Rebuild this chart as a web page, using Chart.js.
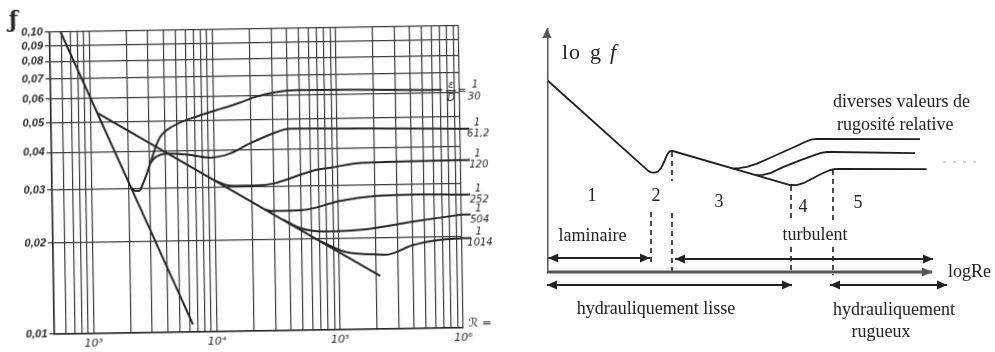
<!DOCTYPE html>
<html lang="fr">
<head>
<meta charset="UTF-8">
<meta name="viewport" content="width=device-width, initial-scale=1.0">
<title>Diagramme de Nikuradse et régimes d'écoulement</title>
<script src="https://cdn.jsdelivr.net/npm/chart.js"></script>
<style>
    html, body { margin: 0; padding: 0; background: #fff; }
    body { position: relative; width: 995px; height: 352px; overflow: hidden; }
    /* le diagramme scanné est légèrement de travers */
    #cadreNiku {
        position: absolute; left: 0; top: 0; width: 500px; height: 352px;
        transform: rotate(-0.9deg); transform-origin: 256.5px 180px;
    }
    #cadreSchema { position: absolute; left: 530px; top: 0; width: 465px; height: 352px; }
</style>
</head>
<body>
<div id="cadreNiku"><canvas id="niku" width="500" height="352"></canvas></div>
<div id="cadreSchema"><canvas id="schema" width="465" height="352"></canvas></div>

<script>
// ---------- Diagramme de Nikuradse : f en fonction de Re ----------
const reLaminaire = [589, 6410];
const fLaminaire  = [0.100, 0.0106];
const reLisse = [1156, 215000];
const fLisse  = [0.0536, 0.0150];

// courbes de rugosité relative ε/D
const re30 = [2100, 2272, 2447, 2591, 2796, 3020, 3261, 3656, 4668, 7737, 12000, 16340, 22000, 30290, 47410, 720000];
const f30  = [0.0303, 0.0295, 0.0295, 0.0308, 0.0332, 0.0363, 0.0398, 0.0443, 0.0481, 0.0521, 0.0549, 0.0571, 0.0596, 0.0614, 0.0625, 0.0615];
const re61 = [3020, 3318, 4153, 6029, 9252, 13440, 19550, 30060, 41320, 1000000];
const f61  = [0.0363, 0.0380, 0.0391, 0.0387, 0.0377, 0.0388, 0.0418, 0.0450, 0.0466, 0.0456];
const re120 = [10110, 13360, 20510, 29790, 62910, 86450, 160100, 1000000];
const f120  = [0.0316, 0.0304, 0.0303, 0.0307, 0.0337, 0.0344, 0.0356, 0.0359];
const re252 = [25550, 29640, 51850, 103500, 206500, 460500, 1000000];
const f252  = [0.0252, 0.0249, 0.0250, 0.0267, 0.0276, 0.0278, 0.0276];
const re504 = [35660, 48870, 74990, 158100, 402200, 1000000];
const f504  = [0.0233, 0.0218, 0.0212, 0.0214, 0.0226, 0.0237];
const re1014 = [70770, 112600, 179300, 237200, 400500, 663000, 1000000];
const f1014  = [0.0197, 0.0181, 0.0177, 0.0176, 0.0189, 0.0196, 0.0198];

const rugosites = ['30', '61,2', '120', '252', '504', '1014'];
const fTicks = [0.01, 0.02, 0.03, 0.04, 0.05, 0.06, 0.07, 0.08, 0.09, 0.10];
const reDecades = [1e3, 1e4, 1e5, 1e6];
const reDecadeLabels = ['10³', '10⁴', '10⁵', '10⁶'];

// ---------- Schéma log f = F(log Re), unités arbitraires ----------
const logReCourbe = [0, 25.3, 26, 27, 27.75, 28.5, 29.25, 30, 30.6, 31.25, 60.75, 62.4, 64.1, 66, 68.5, 70.75, 71.8, 72.8, 94.9];
const logfCourbe  = [48, 25.3, 24.93, 24.85, 25.13, 26, 27.5, 29.25, 30.1, 30.3, 21.75, 21.7, 22.2, 23.2, 24.5, 25.5, 25.7, 25.75, 25.7];
const logReRugueux1 = [46.5, 48, 50, 52.5, 55, 59, 62, 64.5, 66, 67.5, 93.25];
const logfRugueux1  = [25.88, 25.95, 26.3, 27.1, 28.2, 30, 31.3, 32.5, 33.1, 33.3, 33.2];
const logReRugueux2 = [52.25, 54, 56, 59, 63.25, 66.5, 68.5, 70, 71.5, 92];
const logfRugueux2  = [24.2, 24.3, 24.8, 26.2, 27.9, 29.1, 29.8, 30.0, 30.0, 29.7];
const logReTraits = [99, 109];
const logfTraits  = [27.5, 27.5];

// limites des zones 1 à 5 (traits interrompus)
const tiretsRe   = [26, 31.25, 31.25, 61, 61, 71.5, 71.5];
const tiretsHaut = [15, 30, 14.75, 21.5, 6.25, 25.5, 6.25];
const tiretsBas  = [1.5, 22.75, 0.25, 12.75, 0, 12.75, -0.75];

// flèches des régimes : laminaire, turbulent, lisse, rugueux
const flecheDe     = [0.3, 32, 0, 70.75];
const flecheA      = [25.75, 96.5, 61.25, 100];
const flecheNiveau = [3.5, 3.25, -3.25, -3.25];

function serie(xs, ys) {
    return xs.map((x, i) => ({ x: x, y: ys[i] }));
}

Chart.defaults.font.family = 'Liberation Sans';

// grille verticale : 600 ... 900, 1000 ... 9000, ... , 10^6
const reGrille = [];
[100, 1000, 10000, 100000].forEach(d => {
    for (let k = 1; k <= 9; k++) {
        const v = k * d;
        if (v >= 600) reGrille.push(v);
    }
});
reGrille.push(1e6);

const encre = '#262626';

function courbe(xs, ys, lisse) {
    return {
        data: serie(xs, ys),
        showLine: true,
        borderColor: encre,
        borderWidth: 2,
        pointRadius: 0,
        tension: 0,
        cubicInterpolationMode: lisse ? 'monotone' : 'default'
    };
}

const finsRugosite = [f30, f61, f120, f252, f504, f1014].map(a => a[a.length - 1]);

// étiquettes ε/D et symboles du diagramme
const etiquettesNiku = {
    id: 'etiquettesNiku',
    afterDatasetsDraw(chart) {
        const { ctx, chartArea, scales: { x, y } } = chart;
        const xR = x.getPixelForValue(1e6);
        ctx.save();
        ctx.fillStyle = encre;
        ctx.strokeStyle = encre;
        ctx.textAlign = 'center';
        ctx.textBaseline = 'alphabetic';
        ctx.font = 'italic 10px "DejaVu Sans"';
        finsRugosite.forEach((fin, i) => {
            const yF = y.getPixelForValue(fin);
            if (i === 0) {
                const xE = x.getPixelForValue(re30[re30.length - 1]);
                ctx.fillText('ε', xE + 9, yF - 2);
                ctx.lineWidth = 1.2;
                ctx.beginPath(); ctx.moveTo(xE + 4, yF + 1); ctx.lineTo(xE + 14, yF + 1); ctx.stroke();
                ctx.fillText('D', xE + 9, yF + 11);
                ctx.fillText('=', xE + 20, yF + 4);
                ctx.fillText('1', xE + 33, yF - 2);
                ctx.fillText(rugosites[i], xE + 32, yF + 10);
            } else {
                ctx.lineWidth = 2;
                ctx.beginPath(); ctx.moveTo(xR, yF); ctx.lineTo(xR + 9, yF); ctx.stroke();
                ctx.fillText('1', xR + 17, yF - 3);
                ctx.fillText(rugosites[i], xR + 18, yF + 8);
            }
        });
        ctx.font = 'bold 22px "DejaVu Serif"';
        ctx.fillText('ƒ', chartArea.left - 36, chartArea.top - 6);
        ctx.textAlign = 'left';
        ctx.font = 'italic 12px "DejaVu Sans"';
        ctx.fillText('ℛ =', xR + 5, chartArea.bottom - 1);
        ctx.restore();
    }
};

new Chart(document.getElementById('niku'), {
    type: 'scatter',
    data: {
        datasets: [
            courbe(reLaminaire, fLaminaire, false),
            courbe(reLisse, fLisse, false),
            courbe(re30, f30, true),
            courbe(re61, f61, true),
            courbe(re120, f120, true),
            courbe(re252, f252, true),
            courbe(re504, f504, true),
            courbe(re1014, f1014, true)
        ]
    },
    options: {
        responsive: false,
        animation: false,
        layout: { padding: { left: 0, top: 29, right: 39, bottom: 0 } },
        plugins: { legend: { display: false }, tooltip: { enabled: false } },
        scales: {
            x: {
                type: 'logarithmic',
                min: 480,
                max: 1e6,
                afterBuildTicks: s => { s.ticks = reGrille.map(v => ({ value: v })); },
                afterFit: s => { s.height = 21; },
                grid: { color: '#3c3c3c', lineWidth: 1.2, drawTicks: false },
                border: { color: '#222', width: 1.6 },
                ticks: {
                    autoSkip: false,
                    maxRotation: 0,
                    padding: 4,
                    color: encre,
                    font: { family: 'DejaVu Sans', style: 'italic', size: 11 },
                    callback: v => {
                        const i = reDecades.indexOf(v);
                        return i >= 0 ? reDecadeLabels[i] : '';
                    }
                }
            },
            y: {
                type: 'logarithmic',
                min: 0.01,
                max: 0.1,
                afterBuildTicks: s => { s.ticks = fTicks.map(v => ({ value: v })); },
                afterFit: s => { s.width = 52; },
                grid: { color: '#3c3c3c', lineWidth: 1.2, tickLength: 5, tickColor: '#333' },
                border: { color: '#222', width: 1.6 },
                ticks: {
                    padding: 2,
                    color: encre,
                    font: { family: 'Liberation Sans', style: 'italic', weight: 'bold', size: 11 },
                    callback: v => v.toFixed(2).replace('.', ',')
                }
            }
        }
    },
    plugins: [etiquettesNiku]
});

// ---------- schéma de droite ----------
function pointe(ctx, de, a, couleur) {
    const ang = Math.atan2(a.y - de.y, a.x - de.x);
    ctx.save();
    ctx.translate(a.x, a.y);
    ctx.rotate(ang);
    ctx.beginPath();
    ctx.moveTo(0, 0);
    ctx.lineTo(-10, -4.5);
    ctx.lineTo(-10, 4.5);
    ctx.closePath();
    ctx.fillStyle = couleur;
    ctx.fill();
    ctx.restore();
}

const flechesPlugin = {
    id: 'fleches',
    afterDatasetsDraw(chart) {
        const ctx = chart.ctx;
        chart.data.datasets.forEach((ds, i) => {
            if (!ds.fleche) return;
            const pts = chart.getDatasetMeta(i).data;
            const p0 = pts[0], p1 = pts[pts.length - 1];
            if (ds.fleche === 'fin' || ds.fleche === 'deux') pointe(ctx, p0, p1, ds.borderColor);
            if (ds.fleche === 'deux') pointe(ctx, p1, p0, ds.borderColor);
        });
    }
};

const textesSchema = [
    { t: '1', u: 11.25, v: 17.75 },
    { t: '2', u: 27.25, v: 17.75 },
    { t: '3', u: 43, v: 16.25 },
    { t: '4', u: 64, v: 15 },
    { t: '5', u: 77.75, v: 16 },
    { t: 'laminaire', u: 11.4, v: 7.75 },
    { t: 'turbulent', u: 67, v: 8 },
    { t: 'hydrauliquement lisse', u: 27.25, v: -10.5 },
    { t: 'hydrauliquement', u: 86.75, v: -10.75 },
    { t: 'rugueux', u: 83.5, v: -16.25 },
    { t: 'logRe', u: 100.25, v: -1.25, gauche: true },
    { t: 'diverses valeurs de', u: 71.5, v: 41.25, gauche: true },
    { t: 'rugosité relative', u: 72.5, v: 35.5, gauche: true }
];

const textesPlugin = {
    id: 'textesSchema',
    afterDatasetsDraw(chart) {
        const { ctx, scales: { x, y } } = chart;
        ctx.save();
        ctx.fillStyle = '#222';
        ctx.textBaseline = 'alphabetic';
        ctx.font = '18px "Liberation Serif"';
        textesSchema.forEach(e => {
            ctx.textAlign = e.gauche ? 'left' : 'center';
            ctx.fillText(e.t, x.getPixelForValue(e.u), y.getPixelForValue(e.v));
        });
        // titre de l'axe vertical : l o g f
        ctx.textAlign = 'left';
        ctx.font = '22px "Liberation Serif"';
        const yb = y.getPixelForValue(53.25);
        ctx.fillText('l', x.getPixelForValue(3.75), yb);
        ctx.fillText('o', x.getPixelForValue(5.5), yb);
        ctx.fillText('g', x.getPixelForValue(10.75), yb);
        ctx.font = 'italic 22px "Liberation Serif"';
        ctx.fillText('f', x.getPixelForValue(15.75), yb);
        ctx.restore();
    }
};

function trait(xs, ys, opts) {
    return Object.assign({
        data: serie(xs, ys),
        showLine: true,
        pointRadius: 0,
        tension: 0,
        borderColor: '#1e1e1e',
        borderWidth: 1.8
    }, opts || {});
}

const jeuxSchema = [
    trait([0, 0], [0, 61], { borderColor: '#555', borderWidth: 3, fleche: 'fin' }),
    trait([0, 96.25], [0, 0], { borderColor: '#555', borderWidth: 3, fleche: 'fin' }),
    trait(logReCourbe, logfCourbe),
    trait(logReRugueux1, logfRugueux1),
    trait(logReRugueux2, logfRugueux2),
    trait(logReTraits, logfTraits, { borderColor: '#c8c8c8', borderWidth: 1.5, borderDash: [3, 7] })
];
tiretsRe.forEach((u, i) => {
    jeuxSchema.push(trait([u, u], [tiretsHaut[i], tiretsBas[i]], { borderWidth: 1.6, borderDash: [5, 4] }));
});
flecheDe.forEach((u, i) => {
    jeuxSchema.push(trait([u, flecheA[i]], [flecheNiveau[i], flecheNiveau[i]],
        { borderColor: '#222', borderWidth: 2, fleche: 'deux' }));
});

new Chart(document.getElementById('schema'), {
    type: 'scatter',
    data: { datasets: jeuxSchema },
    options: {
        responsive: false,
        animation: false,
        layout: { padding: { left: 17, right: 8, top: 24, bottom: 0 } },
        plugins: { legend: { display: false }, tooltip: { enabled: false } },
        scales: {
            x: { type: 'linear', min: 0, max: 110, display: false },
            y: { type: 'linear', min: -20, max: 62, display: false }
        }
    },
    plugins: [flechesPlugin, textesPlugin]
});
</script>
</body>
</html>
